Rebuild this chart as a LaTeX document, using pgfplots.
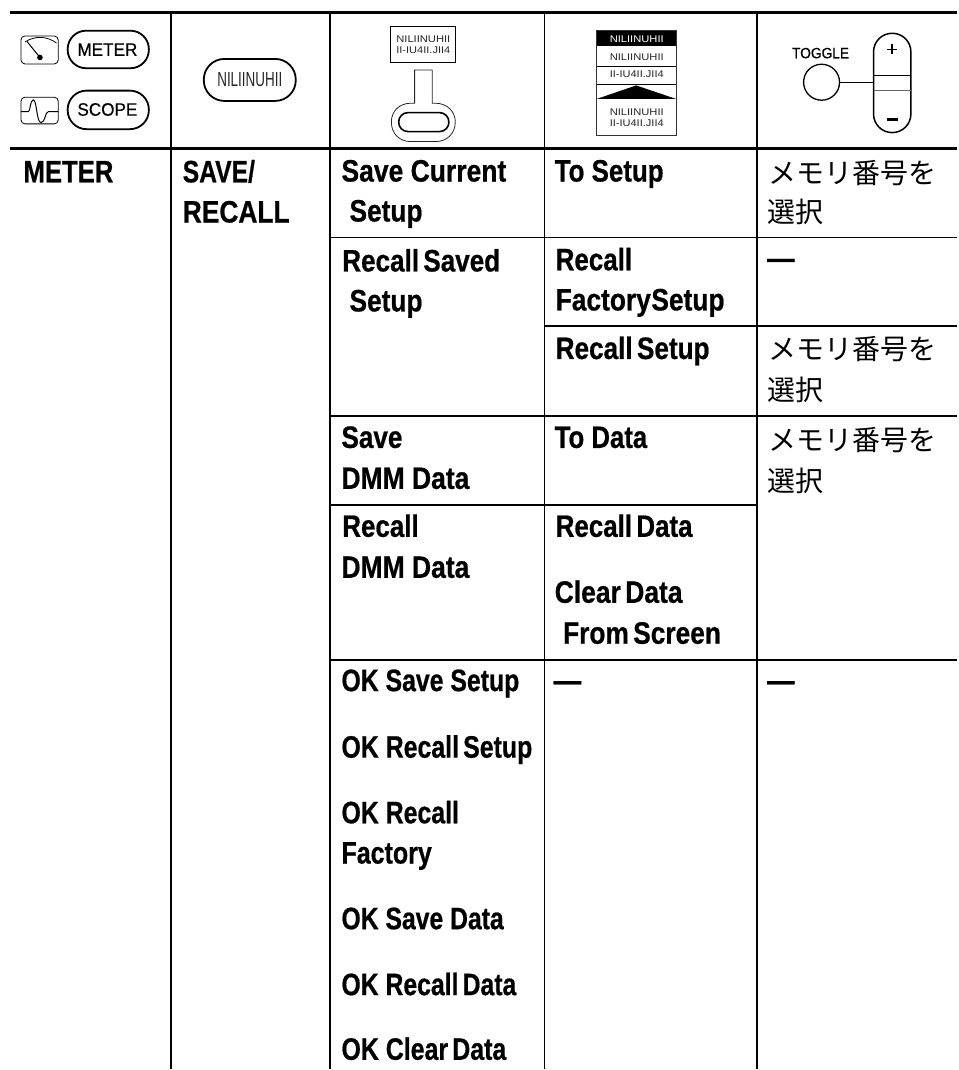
\documentclass[border=0pt]{standalone}
\usepackage{pgfplots}
\pgfplotsset{compat=1.18}
\usepackage{graphicx}
\usepackage{fontspec}
\setmainfont{Liberation Sans}[BoldFeatures={FakeBold=0.7}]
\newfontfamily\hdr{Liberation Sans}[FakeBold=0.45]
\newfontfamily\cjk{Noto Sans CJK JP}
\newcommand\T[4]{\node[anchor=base west,inner sep=0pt] at (axis cs:#1,#2) {\resizebox{#3pt}{\height}{\fontsize{31}{31}\selectfont\bfseries #4}};}
\newcommand\J[3]{\node[anchor=base west,inner sep=0pt] at (axis cs:#1,#2) {\fontsize{28}{28}\selectfont\cjk #3};}
\newcommand\C[6]{\node[anchor=base,inner sep=0pt,text=#5] at (axis cs:#1,#2) {\resizebox{#3pt}{#4pt}{\fontsize{12}{12}\selectfont #6}};}
\newcommand\Ga{NILIINUHII}
\newcommand\Gb{II-IU4II.JII4}
\begin{document}
\begin{tikzpicture}
\begin{axis}[
  scale only axis,width=958pt,height=1070pt,
  xmin=0,xmax=958,ymin=0,ymax=1070,y dir=reverse,
  hide axis,clip=false]
\path (0,0) (958,1070);
% table rules
\addplot[black,line width=3pt] coordinates {(10,12.5) (958,12.5)};
\addplot[black,line width=3pt] coordinates {(10,149) (958,149)};
\addplot[black,line width=1.9pt] coordinates {(171,12.5) (171,1070)};
\addplot[black,line width=1.9pt] coordinates {(330.6,12.5) (330.6,1070)};
\addplot[black,line width=1.9pt] coordinates {(545,12.5) (545,1070)};
\addplot[black,line width=1.9pt] coordinates {(757.8,12.5) (757.8,1070)};
\addplot[black,line width=1.9pt] coordinates {(330.6,237.7) (958,237.7)};
\addplot[black,line width=1.9pt] coordinates {(545,326.7) (958,326.7)};
\addplot[black,line width=1.9pt] coordinates {(330.6,416.7) (958,416.7)};
\addplot[black,line width=1.9pt] coordinates {(330.6,505.7) (757.8,505.7)};
\addplot[black,line width=1.9pt] coordinates {(330.6,660.7) (958,660.7)};
% meter / scope icons
\draw[line width=.8pt,rounded corners=4pt] (21,36) rectangle (58.3,64);
\draw[line width=.8pt] (25,42) .. controls (35,35.5) and (47,36) .. (56.5,43);
\draw[line width=1pt] (27,41.5) -- (40,57.5);
\fill (40,57.5) circle[radius=2.8pt];
\draw[line width=1.8pt,rounded corners=18.5pt] (67.7,30.7) rectangle (149,68.3);
\node[anchor=base,inner sep=0pt] at (axis cs:107.5,55.8) {\resizebox{60pt}{\height}{\fontsize{18}{18}\selectfont\hdr METER}};
\draw[line width=.8pt,rounded corners=4pt] (21,97.3) rectangle (58.3,124);
\draw[line width=1pt] (21,111.7) -- (28.3,111.7) .. controls (30.5,111.7) and (30,100) .. (33.3,100) .. controls (37,100) and (36.5,122.7) .. (41,122.7) .. controls (45.5,122.7) and (45,111.7) .. (48.5,111.7) -- (58.3,111.7);
\draw[line width=1.8pt,rounded corners=19pt] (67.7,90.7) rectangle (149,129.3);
\node[anchor=base,inner sep=0pt] at (axis cs:107.5,115.8) {\resizebox{60pt}{\height}{\fontsize{18}{18}\selectfont\hdr SCOPE}};
% softkey pill
\draw[line width=1.8pt,rounded corners=20.5pt] (204,59) rectangle (296,101);
\C{250}{87}{65}{14}{black!85}{\Ga}
% key icon
\draw[line width=.7pt] (391,26.7) rectangle (455.7,62.7);
\C{423.7}{42.7}{54}{6.7}{black!85}{\Ga}
\C{423.7}{53.3}{54}{6.7}{black!85}{\Gb}
\draw[line width=.8pt,black!85] (415,70) -- (415,103.3) -- (411,103.3) .. controls (399,103.5) and (391.7,112) .. (391.7,122) .. controls (391.7,134) and (400,141.7) .. (411,141.7) -- (436,141.7) .. controls (447,141.7) and (455.7,134) .. (455.7,122) .. controls (455.7,112) and (448,103.5) .. (436,103.3) -- (432.7,103.3) -- (432.7,70) -- cycle;
\draw[line width=1.6pt,rounded corners=9.4pt] (399,112.7) rectangle (449.3,131.7);
% menu icon
\fill[black] (597.3,30) rectangle (676.7,46);
\draw[line width=.8pt,black!80] (597.3,30) rectangle (676.7,136);
\draw[line width=1.1pt] (597.3,66.7) -- (676.7,66.7);
\draw[line width=1.1pt] (597.3,85) -- (676.7,85);
\fill[black] (597.3,99) -- (636.7,85.5) -- (676.7,99) -- cycle;
\C{637.3}{42.7}{54}{6.7}{white}{\Ga}
\C{637.3}{60.5}{54}{6.7}{black!85}{\Ga}
\C{637.3}{78}{54}{6.7}{black!85}{\Gb}
\C{637.3}{116}{54}{6.7}{black!85}{\Ga}
\C{637.3}{126.7}{54}{6.7}{black!85}{\Gb}
% toggle icon
\node[anchor=base,inner sep=0pt] at (axis cs:821.3,58.3) {\resizebox{57pt}{\height}{\fontsize{15}{15}\selectfont\hdr TOGGLE}};
\draw[line width=1.3pt] (822.3,82.3) circle[radius=18pt];
\draw[line width=1.2pt] (840.5,82.3) -- (874.3,82.3);
\draw[line width=1.5pt,rounded corners=18.6pt] (874.3,33.3) rectangle (911.7,132.7);
\draw[line width=.9pt] (874.3,75.3) -- (911.7,75.3);
\draw[line width=.7pt,black!60] (874.3,90.7) -- (911.7,90.7);
\draw[line width=1.8pt] (892.7,44.5) -- (892.7,54.5);
\draw[line width=1.8pt] (887.7,49.5) -- (897.7,49.5);
\draw[line width=2.8pt] (887.3,120) -- (898.3,120);
% column 1, 2
\T{23.3}{182.5}{90}{METER}
\T{182.7}{182.5}{72.3}{SAVE/}
\T{182.7}{222.7}{107}{RECALL}
% column 3
\T{341.6}{181.7}{165}{Save Current}
\T{349.7}{221.7}{73}{Setup}
\T{342.4}{271.7}{158}{Recall\,Saved}
\T{349.7}{311.7}{73}{Setup}
\T{341.6}{448.3}{61}{Save}
\T{341.6}{489.3}{128}{DMM Data}
\T{342.4}{537.3}{76.5}{Recall}
\T{341.6}{578.3}{128}{DMM Data}
\T{341.6}{691.7}{178}{OK Save Setup}
\T{341.6}{758.3}{191}{OK Recall\,Setup}
\T{341.6}{824}{117.6}{OK Recall}
\T{341.6}{864.3}{90.4}{Factory}
\T{341.6}{930}{162.4}{OK Save Data}
\T{341.6}{996}{175}{OK Recall\,Data}
\T{341.6}{1060.7}{165}{OK Clear\,Data}
% column 4
\T{555}{181.7}{109}{To Setup}
\T{556}{270.5}{76.5}{Recall}
\T{556}{310.7}{169}{Factory\kern.02em Setup}
\T{556}{359.3}{154}{Recall\,Setup}
\T{555}{448.3}{92.6}{To Data}
\T{556}{537.3}{137}{Recall\,Data}
\T{555}{603.3}{128}{Clear\,Data}
\T{563.4}{644.3}{158}{From\,Screen}
\T{554}{691.7}{27.7}{—}
% column 5
\J{769}{183.5}{メモリ番号を}
\J{768}{223}{選択}
\J{769}{360}{メモリ番号を}
\J{768}{400.6}{選択}
\J{769}{451}{メモリ番号を}
\J{768}{492}{選択}
\T{767.7}{269}{27.3}{—}
\T{767.7}{691.7}{27.3}{—}
\end{axis}
\end{tikzpicture}
\end{document}
